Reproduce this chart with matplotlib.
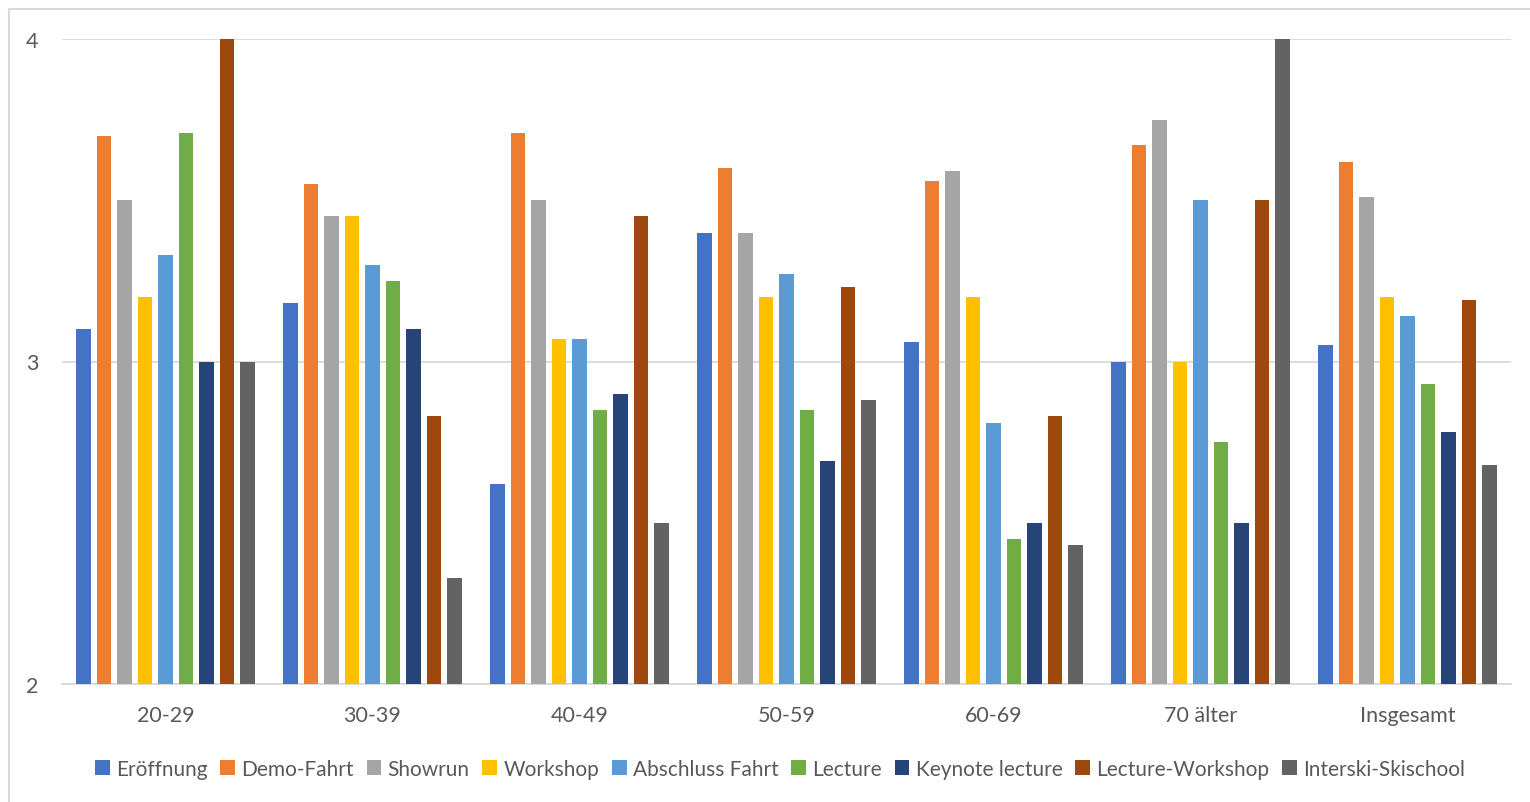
import matplotlib.pyplot as plt
import numpy as np
from matplotlib.patches import Rectangle

plt.rcParams['font.family'] = ['Lato', 'DejaVu Sans']

# ----
# Data
# ----
groups = ["20-29", "30-39", "40-49", "50-59", "60-69", "70 älter", "Insgesamt"]
series = ["Eröffnung", "Demo-Fahrt", "Showrun", "Workshop", "Abschluss Fahrt",
          "Lecture", "Keynote lecture", "Lecture-Workshop", "Interski-Skischool"]

eroeffnung = [3.10, 3.18, 2.62, 3.40, 3.06, 3.00, 3.05]
demo_fahrt = [3.70, 3.55, 3.71, 3.60, 3.56, 3.67, 3.62]
showrun = [3.50, 3.45, 3.50, 3.40, 3.59, 3.75, 3.51]
workshop = [3.20, 3.45, 3.07, 3.20, 3.20, 3.00, 3.20]
abschluss = [3.33, 3.30, 3.07, 3.27, 2.81, 3.50, 3.14]
lecture = [3.71, 3.25, 2.85, 2.85, 2.45, 2.75, 2.93]
keynote = [3.00, 3.10, 2.90, 2.69, 2.50, 2.50, 2.78]
lecture_workshop = [4.00, 2.83, 3.45, 3.23, 2.83, 3.50, 3.19]
interski = [3.00, 2.33, 2.50, 2.88, 2.43, 4.00, 2.68]

values = [eroeffnung, demo_fahrt, showrun, workshop, abschluss,
          lecture, keynote, lecture_workshop, interski]
colors = ["#4472C4", "#ED7D31", "#A5A5A5", "#FFC000", "#5B9BD5",
          "#70AD47", "#264478", "#9E480E", "#636363"]

# ----
# Plot
# ----
fig = plt.figure(figsize=(15.3, 8.03), dpi=100)
fig.patches.append(Rectangle((9 / 1530, -0.1), 1.2, 1 - 10 / 803 + 0.1,
                             transform=fig.transFigure, fill=False,
                             edgecolor="#D9D9D9", linewidth=1.5))
ax = fig.add_axes([62 / 1530, 1 - 685 / 803, 1449 / 1530, 645 / 803])

x = np.arange(len(groups))
pitch = 0.099
width = 0.068
for i, (name, vals, c) in enumerate(zip(series, values, colors)):
    ax.bar(x + (i - 4) * pitch, np.array(vals) - 2, bottom=2, width=width,
           color=c, label=name, zorder=3)

ax.set_xlim(-0.5, len(groups) - 0.5)
ax.set_ylim(2, 4)
ax.set_yticks([2, 3, 4])
ax.set_xticks(x)
ax.set_xticklabels(groups)
ax.tick_params(axis="both", length=0, labelsize=15.5, colors="#595959")
ax.tick_params(axis="y", pad=17)
ax.tick_params(axis="x", pad=15)
ax.grid(axis="y", color="#D9D9D9", linewidth=1.3, zorder=0)
for s in ["top", "right", "left"]:
    ax.spines[s].set_visible(False)
ax.spines["bottom"].set_color("#D9D9D9")
ax.spines["bottom"].set_linewidth(1.3)

ax.legend(loc="center", bbox_to_anchor=(780 / 1530, 1 - 770 / 803),
          bbox_transform=fig.transFigure, ncol=9, frameon=False,
          fontsize=15, labelcolor="#595959", handlelength=0.7, handleheight=0.7,
          handletextpad=0.3, columnspacing=0.62, borderaxespad=0)

plt.savefig("out.png", dpi=100)
